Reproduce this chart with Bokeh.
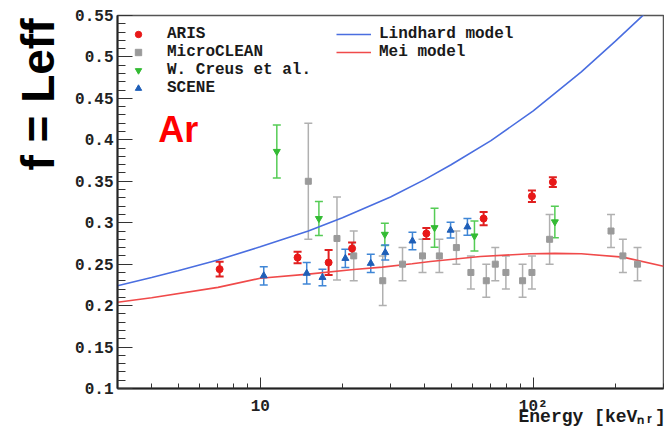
import math
from bokeh.plotting import figure
from bokeh.models import (ColumnDataSource, Whisker, TeeHead, Legend, LegendItem,
                          FixedTicker, CustomJSTickFormatter, Label, Title)
from bokeh.embed import file_html
from bokeh.resources import INLINE

# ---------------- data ----------------
aris_E = [7.1, 13.7, 17.8, 21.7, 40.6, 65.8, 98.9, 118]
aris_f = [0.244, 0.258, 0.252, 0.269, 0.287, 0.305, 0.332, 0.349]
aris_err = [0.009, 0.007, 0.015, 0.007, 0.0065, 0.008, 0.007, 0.006]

micro_E = [15.0, 19.1, 22.0, 28.1, 33.2, 39.3, 45.3, 52.3, 59.1, 67.3, 72.6, 79.4,
           91.4, 98.9, 114.8, 192.7, 213, 241]
micro_f = [0.350, 0.281, 0.260, 0.230, 0.250, 0.260, 0.260, 0.270, 0.240, 0.230,
           0.250, 0.240, 0.230, 0.240, 0.280, 0.290, 0.260, 0.250]
micro_err = [0.07, 0.05, 0.03, 0.03, 0.02, 0.02, 0.02, 0.02, 0.02, 0.02, 0.02, 0.02,
             0.02, 0.02, 0.03, 0.02, 0.02, 0.02]

creus_E = [11.5, 16.4, 28.6, 43.5, 60.9, 120]
creus_f = [0.386, 0.305, 0.286, 0.294, 0.284, 0.301]
creus_err = [0.032, 0.0205, 0.0135, 0.0235, 0.018, 0.019]

scene_E = [10.3, 14.8, 16.9, 20.5, 25.4, 28.7, 36.1, 49.8, 57.4]
scene_f = [0.236, 0.239, 0.234, 0.257, 0.251, 0.264, 0.278, 0.291, 0.295]
scene_err = [0.011, 0.013, 0.010, 0.011, 0.011, 0.009, 0.0105, 0.0095, 0.010]

lind_E = [3, 4, 5, 7, 10, 15, 20, 30, 40, 50, 70, 100, 150, 200, 250, 300]
lind_f = [0.224, 0.234, 0.242, 0.255, 0.271, 0.290, 0.306, 0.331, 0.352, 0.370,
          0.399, 0.435, 0.482, 0.519, 0.549, 0.575]

mei_E = [3, 4, 7, 10, 15, 22, 28, 36, 42, 64, 98, 120, 150, 213, 300]
mei_f = [0.204, 0.2095, 0.222, 0.233, 0.238, 0.2436, 0.2464, 0.2505, 0.2533,
         0.2593, 0.2625, 0.263, 0.2625, 0.2585, 0.2475]

x_major = [10, 100]
x_minor = [3, 4, 5, 6, 7, 8, 9, 20, 30, 40, 50, 60, 70, 80, 90, 200, 300]
y_major = [0.1, 0.15, 0.2, 0.25, 0.3, 0.35, 0.4, 0.45, 0.5, 0.55]
y_minor = [round(0.1 + 0.01 * i, 2) for i in range(46)]

x_title = "Energy [keV\u2099\u1d63]"
y_title = "f = Leff"
tag_text = "Ar"

MONO = "Liberation Mono"
SANS = "Liberation Sans"

p = figure(width=664, height=435, x_axis_type="log", x_range=(3, 300), y_range=(0.1, 0.55),
           output_backend="svg", toolbar_location=None,
           min_border_left=117, min_border_right=1, min_border_top=15, min_border_bottom=47)
p.background_fill_color = "white"
p.border_fill_color = "white"
p.xgrid.visible = False
p.ygrid.visible = False
p.outline_line_color = "#555555"
p.outline_line_width = 1.5

# axes styling
p.xaxis.ticker = FixedTicker(ticks=x_major, minor_ticks=x_minor)
p.xaxis.formatter = CustomJSTickFormatter(code="return tick > 50 ? '10\u00b2' : '10';")
p.yaxis.ticker = FixedTicker(ticks=y_major, minor_ticks=y_minor)
p.yaxis.formatter = CustomJSTickFormatter(code="return (Math.round(tick*100)/100).toString();")
for ax in (p.xaxis[0], p.yaxis[0]):
    ax.axis_line_color = "#222222"
    ax.axis_line_width = 2
    ax.major_tick_line_color = "#333333"
    ax.minor_tick_line_color = "#333333"
    ax.major_tick_out = 0
    ax.minor_tick_out = 0
    ax.major_label_text_font = MONO
    ax.major_label_text_font_style = "bold"
    ax.major_label_text_font_size = "16px"
    ax.major_label_text_color = "#222222"
p.xaxis.major_tick_in = 11
p.xaxis.minor_tick_in = 5
p.xaxis.major_label_standoff = 9
p.yaxis.major_tick_in = 15
p.yaxis.minor_tick_in = 8
p.yaxis.major_label_standoff = 4

# x title as a below Title, left-anchored and shifted right, pulled up
p.add_layout(Title(text=x_title, align="left", vertical_align="top", offset=401, standoff=-23,
                   text_font=MONO, text_font_style="bold", text_font_size="18px",
                   text_color="#1a1a1a"), "below")

# y title as a left-side Title
p.add_layout(Title(text=y_title, align="right", offset=3, standoff=18,
                   text_font=SANS, text_font_style="bold", text_font_size="46px",
                   text_color="black"), "left")

# model curves
r_lind = p.line(lind_E, lind_f, line_color="#4a6ee0", line_width=1.6)
r_mei = p.line(mei_E, mei_f, line_color="#f04a4a", line_width=1.6)

def series(E, f, err, color, bar_color, marker, size, lw):
    src = ColumnDataSource(dict(x=E, y=f, lo=[a - b for a, b in zip(f, err)],
                                hi=[a + b for a, b in zip(f, err)]))
    w = Whisker(source=src, base="x", lower="lo", upper="hi", dimension="height",
                line_color=bar_color, line_width=lw,
                upper_head=TeeHead(size=8, line_color=bar_color, line_width=lw),
                lower_head=TeeHead(size=8, line_color=bar_color, line_width=lw))
    p.add_layout(w)
    return p.scatter("x", "y", source=src, marker=marker, size=size,
                     fill_color=color, line_color=color)

r_micro = series(micro_E, micro_f, micro_err, "#9a9a9a", "#b0b0b0", "square", 6, 1.5)
r_creus = series(creus_E, creus_f, creus_err, "#33bb33", "#55cc55", "inverted_triangle", 7, 1.5)
r_scene = series(scene_E, scene_f, scene_err, "#1f5fb8", "#3f86d6", "triangle", 7, 1.5)
r_aris = series(aris_E, aris_f, aris_err, "#e81818", "#e02020", "circle", 7, 2)

def make_legend(items, loc, gw, standoff):
    lg = Legend(items=items, location=loc, orientation="vertical",
                padding=0, margin=0, spacing=0, border_line_color=None,
                background_fill_alpha=0, glyph_width=gw, glyph_height=18,
                label_height=18, label_standoff=standoff,
                label_text_font=MONO, label_text_font_style="bold",
                label_text_font_size="16px", label_text_color="#1a1a1a")
    p.add_layout(lg)

make_legend([LegendItem(label="ARIS", renderers=[r_aris]),
             LegendItem(label="MicroCLEAN", renderers=[r_micro]),
             LegendItem(label="W. Creus et al.", renderers=[r_creus]),
             LegendItem(label="SCENE", renderers=[r_scene])], (13, 291), 16, 21)
make_legend([LegendItem(label="Lindhard model", renderers=[r_lind]),
             LegendItem(label="Mei model", renderers=[r_mei])], (219, 327), 35, 8)

# "Ar" tag inside the frame (data units)
p.add_layout(Label(x=4.23, y=0.413, text=tag_text, text_align="left",
                   text_baseline="alphabetic", text_font=SANS, text_font_style="bold",
                   text_font_size="36px", text_color="#ff0000"))

open("out.html", "w").write(file_html(p, INLINE))
